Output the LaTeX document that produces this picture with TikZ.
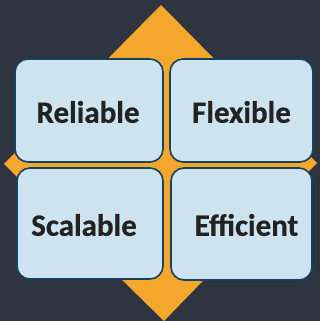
\documentclass[tikz,border=0pt]{standalone}
\usepackage{fontspec}
\setmainfont{Carlito}[BoldFeatures={FakeBold=0.6}]
\definecolor{bgdark}{HTML}{2E3540}
\definecolor{diamondorange}{HTML}{F5A62C}
\definecolor{boxfill}{HTML}{CDE4F0}
\definecolor{boxline}{HTML}{17425F}
\definecolor{textdark}{HTML}{222222}
\tikzset{
  quadbox/.style={draw=boxline, line width=1.6pt, fill=boxfill, rounded corners=13pt},
  quadtext/.style={text=textdark, font=\fontsize{31}{34}\selectfont\bfseries, inner sep=0pt}
}
\begin{document}
\begin{tikzpicture}[x=1pt, y=-1pt]

    % background
    \fill[bgdark] (0,0) rectangle (320,321);
    \useasboundingbox (0,0) rectangle (320,321);

    % diamond
    \fill[diamondorange] (161,5) -- (317,163) -- (164,321) -- (4,164) -- cycle;

    % boxes
    \draw[quadbox] (15,59) rectangle (163,162);
    \draw[quadbox] (170,59) rectangle (313,162);
    \draw[quadbox] (17,168) rectangle (163,279);
    \draw[quadbox] (171,168) rectangle (312,280);

    % labels
    \node[quadtext] (reliable) at (88,112) {Reliable};
    \node[quadtext] (flexible) at (241.5,112) {Flexible};
    \node[quadtext] (scalable) at (84,225) {Scalable};
    \node[quadtext] (efficient) at (246.5,225) {Efficient};

\end{tikzpicture}
\end{document}
